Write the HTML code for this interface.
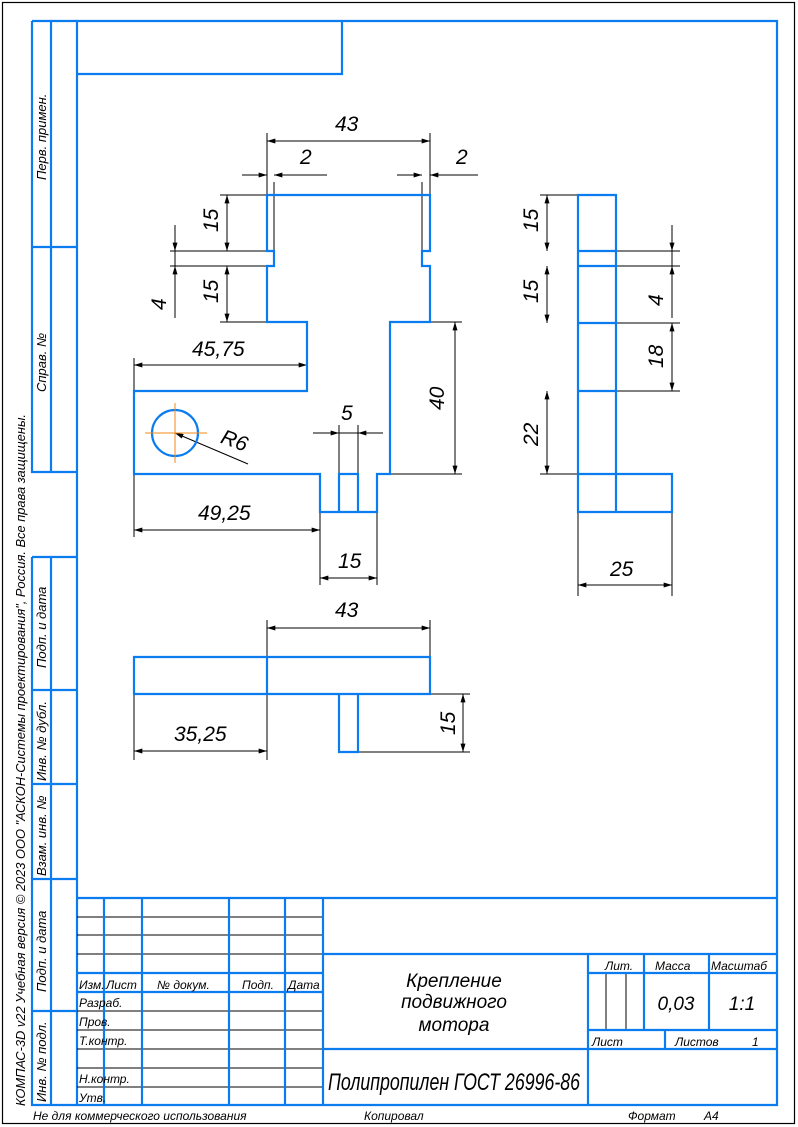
<!DOCTYPE html>
<html><head><meta charset="utf-8"><style>
html,body{margin:0;padding:0;background:#fff}
svg{display:block}
text{font-family:"Liberation Sans","Noto Sans CJK SC",sans-serif;font-style:italic;fill:#000}
.b{stroke:#0a7cf0;stroke-width:2.2;fill:none}
.k{stroke:#000;stroke-width:1;fill:none}
.o{stroke:#f08a1a;stroke-width:1;fill:none}
</style></head><body>
<svg width="798" height="1127" viewBox="0 0 798 1127" xmlns="http://www.w3.org/2000/svg">
<defs>
<marker id="a" viewBox="0 0 10 6" refX="10" refY="3" markerWidth="12" markerHeight="5" markerUnits="userSpaceOnUse" orient="auto-start-reverse"><path d="M0,0L10,3L0,6z" fill="#000"/></marker>
</defs>
<rect x="2.5" y="2.5" width="792" height="1121" fill="none" stroke="#000" stroke-width="1.2"/>

<!-- dimension/extension lines (drawn first) -->
<path class="k" d="M267,195V133M430,195V133M274,251V182M422,251V182M267,195H220M267,251H170M267,266H170M267,322H220
M134,391V358M307,322V358M390,322H462M390,474H462M339,474V425M358,474V425M134,474V537M320,512V585M377,512V585
M578,195H540M578,251H680M578,266H680M578,323H680M578,391H680M578,474H540M578,512V596M672,512V596
M267,657V620M430,657V620M134,694V760M267,694V760M430,694H470M358,752H470"/>
<g class="k" marker-start="url(#a)" marker-end="url(#a)">
<path d="M267,141H430"/>
<path d="M227,195V251"/><path d="M227,266V322"/>
<path d="M134,365H307"/>
<path d="M455,322V474"/>
<path d="M134,530H320"/>
<path d="M320,578H377"/>
<path d="M547,195V251"/><path d="M547,266V323"/><path d="M547,391V474"/>
<path d="M672,323V391"/>
<path d="M578,585H672"/>
<path d="M267,628H430"/>
<path d="M134,751H267"/>
<path d="M463,694V752"/>
</g>
<g class="k" marker-end="url(#a)">
<path d="M242,175H267"/><path d="M300,175H274"/><path d="M397,175H422"/><path d="M470,175H430"/>
<path d="M175,225V251"/><path d="M175,318V266"/>
<path d="M313,433H339"/><path d="M383,433H358"/>
<path d="M672,225V251"/><path d="M672,317V266"/>
<path d="M248,464L175,433"/>
</g>
<path class="k" d="M274,175H327M400,175H422M430,175H478M175,225V318M339,433H358M672,225V318"/>

<!-- frame -->
<path class="b" d="M77,21H777V1105H77Z"/>
<path class="b" d="M77,74H342V21"/>
<!-- side strip -->
<path class="b" d="M32,21H77M32,21V472H77M51,21V472M32,247H77"/>
<path class="b" d="M32,557H77M32,557V1105H77M51,557V1105M32,690H77M32,784H77M32,879H77M32,1011H77"/>
<g font-size="13">
<text transform="translate(46,180) rotate(-90)">Перв. примен.</text>
<text transform="translate(46,392) rotate(-90)">Справ. №</text>
<text transform="translate(46,668) rotate(-90)">Подп. и дата</text>
<text transform="translate(46,781) rotate(-90)">Инв. № дубл.</text>
<text transform="translate(46,876) rotate(-90)">Взам. инв. №</text>
<text transform="translate(46,992) rotate(-90)">Подп. и дата</text>
<text transform="translate(46,1102) rotate(-90)">Инв. № подл.</text>
<text transform="translate(25,1106) rotate(-90)" textLength="692" lengthAdjust="spacingAndGlyphs">КОМПАС-3D v22 Учебная версия © 2023 ООО "АСКОН-Системы проектирования", Россия. Все права защищены.</text>
</g>
<!-- title block -->
<path class="k" d="M77,917H323M77,935H323M77,954H323M77,1011H323M77,1030H323M77,1049H323M77,1068H323M77,1087H323M606,973V1030M626,973V1030"/>
<path class="b" d="M77,898H777M104,898V1105M142,898V1105M229,898V1105M285,898V1105M323,898V1105M77,973H323M77,992H323M323,954H777M323,1049H777M588,954V1105M644,954V1030M709,954V1030M588,973H777M588,1030H777M665,1030V1049"/>
<g font-size="12">
<text x="79" y="989">Изм.</text><text x="106" y="989">Лист</text><text x="157" y="989">№ докум.</text><text x="242" y="989">Подп.</text><text x="288" y="989">Дата</text>
<text x="79" y="1007">Разраб.</text><text x="79" y="1026">Пров.</text><text x="79" y="1045">Т.контр.</text><text x="79" y="1083">Н.контр.</text><text x="79" y="1102">Утв.</text>
<text x="605" y="970">Лит.</text><text x="655" y="970">Масса</text><text x="711" y="970">Масштаб</text>
<text x="592" y="1046">Лист</text><text x="675" y="1046">Листов</text><text x="752" y="1046">1</text>
<text x="33" y="1120">Не для коммерческого использования</text>
<text x="364" y="1120">Копировал</text>
<text x="628" y="1120">Формат</text><text x="704" y="1120">A4</text>
</g>
<g font-size="19" text-anchor="middle">
<text x="454" y="987">Крепление</text><text x="454" y="1008">подвижного</text><text x="454" y="1031">мотора</text>
<text x="676" y="1010">0,03</text><text x="742" y="1010">1:1</text>
</g>
<text x="328" y="1090" font-size="24" textLength="252" lengthAdjust="spacingAndGlyphs">Полипропилен ГОСТ 26996-86</text>

<!-- front view -->
<path class="b" d="M267,195H430V251H422V266H430V322H390V474H377V512H320V474H134V391H307V322H267V266H274V251H267Z"/>
<path class="b" d="M339,512V474H358V512"/>
<circle class="b" cx="175" cy="433" r="23"/>
<path class="o" d="M145,433H207M175,403V463"/>
<!-- side view -->
<path class="b" d="M578,195H616V474H672V512H578Z M578,251H616M578,266H616M578,323H616M578,391H616M578,474H616M616,474V512"/>
<!-- bottom view -->
<path class="b" d="M134,657H430V694H134Z M267,657V694 M339,694V752H358V694"/>

<g font-size="21">
<text x="335" y="131">43</text><text x="300" y="164">2</text><text x="456" y="164">2</text>
<text transform="translate(218,232) rotate(-90)">15</text>
<text transform="translate(218,303) rotate(-90)">15</text>
<text transform="translate(166,310) rotate(-90)">4</text>
<text x="192" y="356">45,75</text>
<text transform="translate(444,410) rotate(-90)">40</text>
<text x="341" y="420">5</text>
<text x="221" y="446" transform="rotate(20,230,440)">R6</text>
<text x="198" y="520">49,25</text>
<text x="338" y="568">15</text>
<text transform="translate(538,232) rotate(-90)">15</text>
<text transform="translate(538,303) rotate(-90)">15</text>
<text transform="translate(663,306) rotate(-90)">4</text>
<text transform="translate(663,368) rotate(-90)">18</text>
<text transform="translate(538,446) rotate(-90)">22</text>
<text x="610" y="576">25</text>
<text x="335" y="617">43</text>
<text x="174" y="741">35,25</text>
<text transform="translate(455,735) rotate(-90)">15</text>
</g>
</svg>
</body></html>
